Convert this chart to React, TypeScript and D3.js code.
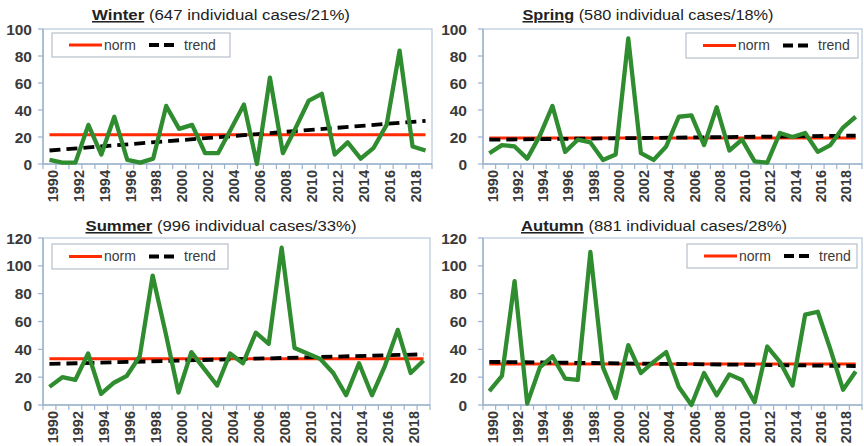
import React from "react";
import * as d3 from "d3";

const years: number[] = d3.range(1990, 2020);
const xTickYears: number[] = d3.range(1990, 2019, 2);

const winterValues = [3, 1, 1, 29, 7, 35, 3, 1, 4, 43, 26, 29, 8, 8, 26, 44, 0, 64, 8, 27, 47, 52, 7, 16, 4, 12, 29, 84, 13, 10];
const springValues = [8, 14, 13, 4, 21, 43, 9, 18, 16, 3, 7, 93, 8, 3, 13, 35, 36, 14, 42, 10, 18, 2, 1, 23, 20, 23, 9, 14, 27, 35];
const summerValues = [13, 20, 18, 37, 8, 16, 21, 35, 93, 52, 9, 38, 26, 14, 37, 30, 52, 44, 113, 41, 37, 33, 23, 7, 30, 7, 28, 54, 23, 32];
const autumnValues = [10, 21, 89, 1, 27, 35, 19, 18, 110, 27, 5, 43, 23, 31, 38, 13, 0, 23, 7, 22, 18, 2, 42, 31, 14, 65, 67, 40, 11, 24];

const norms = [21.6, 19.3, 33.2, 29.4];
const trendStart = [10, 18, 29.5, 31];
const trendEnd = [32, 21, 36.4, 28];
const seasonNames = ["Winter", "Spring", "Summer", "Autumn"];
const seasonNotes = [" (647 individual cases/21%)", " (580 individual cases/18%)", " (996 individual cases/33%)", " (881 individual cases/28%)"];
const yMaxes = [100, 100, 120, 120];

type Layout = {
  x0: number; x1: number; yTop: number; yBot: number;
  titleX: number; titleY: number; titleLen: number;
  lx: number; ly: number; lw: number; lh: number; labelGap: number;
};

const layouts: Layout[] = [
  { x0: 43, x1: 432, yTop: 29, yBot: 164, titleX: 221, titleY: 20, titleLen: 258, lx: 52, ly: 33, lw: 178, lh: 24, labelGap: 11 },
  { x0: 483, x1: 862, yTop: 29, yBot: 164, titleX: 648, titleY: 20, titleLen: 251, lx: 686, ly: 33, lw: 172, lh: 25, labelGap: 16 },
  { x0: 43, x1: 430, yTop: 238, yBot: 405, titleX: 221, titleY: 231, titleLen: 271, lx: 52, ly: 244, lw: 176, lh: 25, labelGap: 11 },
  { x0: 483, x1: 862, yTop: 238, yBot: 405, titleX: 654, titleY: 231, titleLen: 266, lx: 687, ly: 244, lw: 170, lh: 24, labelGap: 16 },
];

const seriesList = [winterValues, springValues, summerValues, autumnValues];

const GREEN = "#2f8c2f";
const RED = "#ff2a00";
const AXIS = "#9db3cc";
const TEXT = "#3a3a3a";
const FONT = "'Liberation Sans', Arial, sans-serif";

function Panel({ i }: { i: number }) {
  const L = layouts[i];
  const values = seriesList[i];
  const x = d3.scaleBand<number>().domain(years).range([L.x0, L.x1]).padding(0);
  const cx = (yr: number) => (x(yr) as number) + x.bandwidth() / 2;
  const y = d3.scaleLinear().domain([0, yMaxes[i]]).range([L.yBot, L.yTop]);
  const yTicks = d3.range(0, yMaxes[i] + 1, 20);
  const line = d3.line<number>().x((_, k) => cx(years[k])).y((v) => y(v));
  const first = years[0];
  const last = years[years.length - 1];
  const boundaries = years.map((yr) => x(yr) as number).concat([L.x1]);

  return (
    <g>
      <text x={L.titleX} y={L.titleY} textAnchor="middle" fontFamily={FONT} fontSize={15.5} fill="#222" textLength={L.titleLen} lengthAdjust="spacingAndGlyphs">
        <tspan fontWeight="bold" textDecoration="underline">{seasonNames[i]}</tspan>
        <tspan>{seasonNotes[i]}</tspan>
      </text>
      <rect x={L.x0} y={L.yTop} width={L.x1 - L.x0} height={L.yBot - L.yTop} fill="#fff" stroke="#b7c8dc" strokeWidth={1.2} />
      {/* y axis */}
      <line x1={L.x0} x2={L.x0} y1={L.yTop} y2={L.yBot} stroke={AXIS} strokeWidth={1.5} />
      {yTicks.map((t) => (
        <g key={t}>
          <line x1={L.x0 - 5} x2={L.x0} y1={y(t)} y2={y(t)} stroke={AXIS} strokeWidth={1.2} />
          <text x={L.x0 - L.labelGap} y={y(t)} dy="0.36em" textAnchor="end" fontFamily={FONT} fontSize={15.5} fontWeight="bold" fill={TEXT}>{t}</text>
        </g>
      ))}
      {/* x axis */}
      <line x1={L.x0} x2={L.x1} y1={L.yBot} y2={L.yBot} stroke={AXIS} strokeWidth={1.5} />
      {boundaries.map((bx, k) => (
        <line key={k} x1={bx} x2={bx} y1={L.yBot} y2={L.yBot + 5} stroke={AXIS} strokeWidth={1.2} />
      ))}
      {xTickYears.map((yr) => (
        <text key={yr} transform={`translate(${cx(yr) + 3},${L.yBot + 6}) rotate(-90)`} textAnchor="end" dy="0.36em" fontFamily={FONT} fontSize={14.5} fontWeight="bold" fill={TEXT}>{yr}</text>
      ))}
      {/* norm */}
      <line x1={cx(first)} x2={cx(last)} y1={y(norms[i])} y2={y(norms[i])} stroke={RED} strokeWidth={3} />
      {/* trend */}
      <line x1={cx(first)} x2={cx(last)} y1={y(trendStart[i])} y2={y(trendEnd[i])} stroke="#000" strokeWidth={3.8} strokeDasharray="11,6" />
      {/* series */}
      <path d={line(values) || ""} fill="none" stroke={GREEN} strokeWidth={4.3} strokeLinejoin="round" />
      {/* legend */}
      <rect x={L.lx} y={L.ly} width={L.lw} height={L.lh} fill="#fff" stroke="#a9b4c2" strokeWidth={1} />
      <line x1={L.lx + 17} x2={L.lx + 50} y1={L.ly + L.lh / 2} y2={L.ly + L.lh / 2} stroke={RED} strokeWidth={3} />
      <text x={L.lx + 52} y={L.ly + L.lh / 2} dy="0.35em" fontFamily={FONT} fontSize={14} fill={TEXT}>norm</text>
      <line x1={L.lx + 97} x2={L.lx + 126} y1={L.ly + L.lh / 2} y2={L.ly + L.lh / 2} stroke="#000" strokeWidth={4} strokeDasharray="10,5" />
      <text x={L.lx + 132} y={L.ly + L.lh / 2} dy="0.35em" fontFamily={FONT} fontSize={14} fill={TEXT}>trend</text>
    </g>
  );
}

export default function App() {
  return (
    <svg width={864} height={446} style={{ position: "absolute", left: 0, top: 0, background: "#fff" }}>
      <rect width={864} height={446} fill="#fff" />
      {[0, 1, 2, 3].map((i) => (
        <Panel key={i} i={i} />
      ))}
    </svg>
  );
}
